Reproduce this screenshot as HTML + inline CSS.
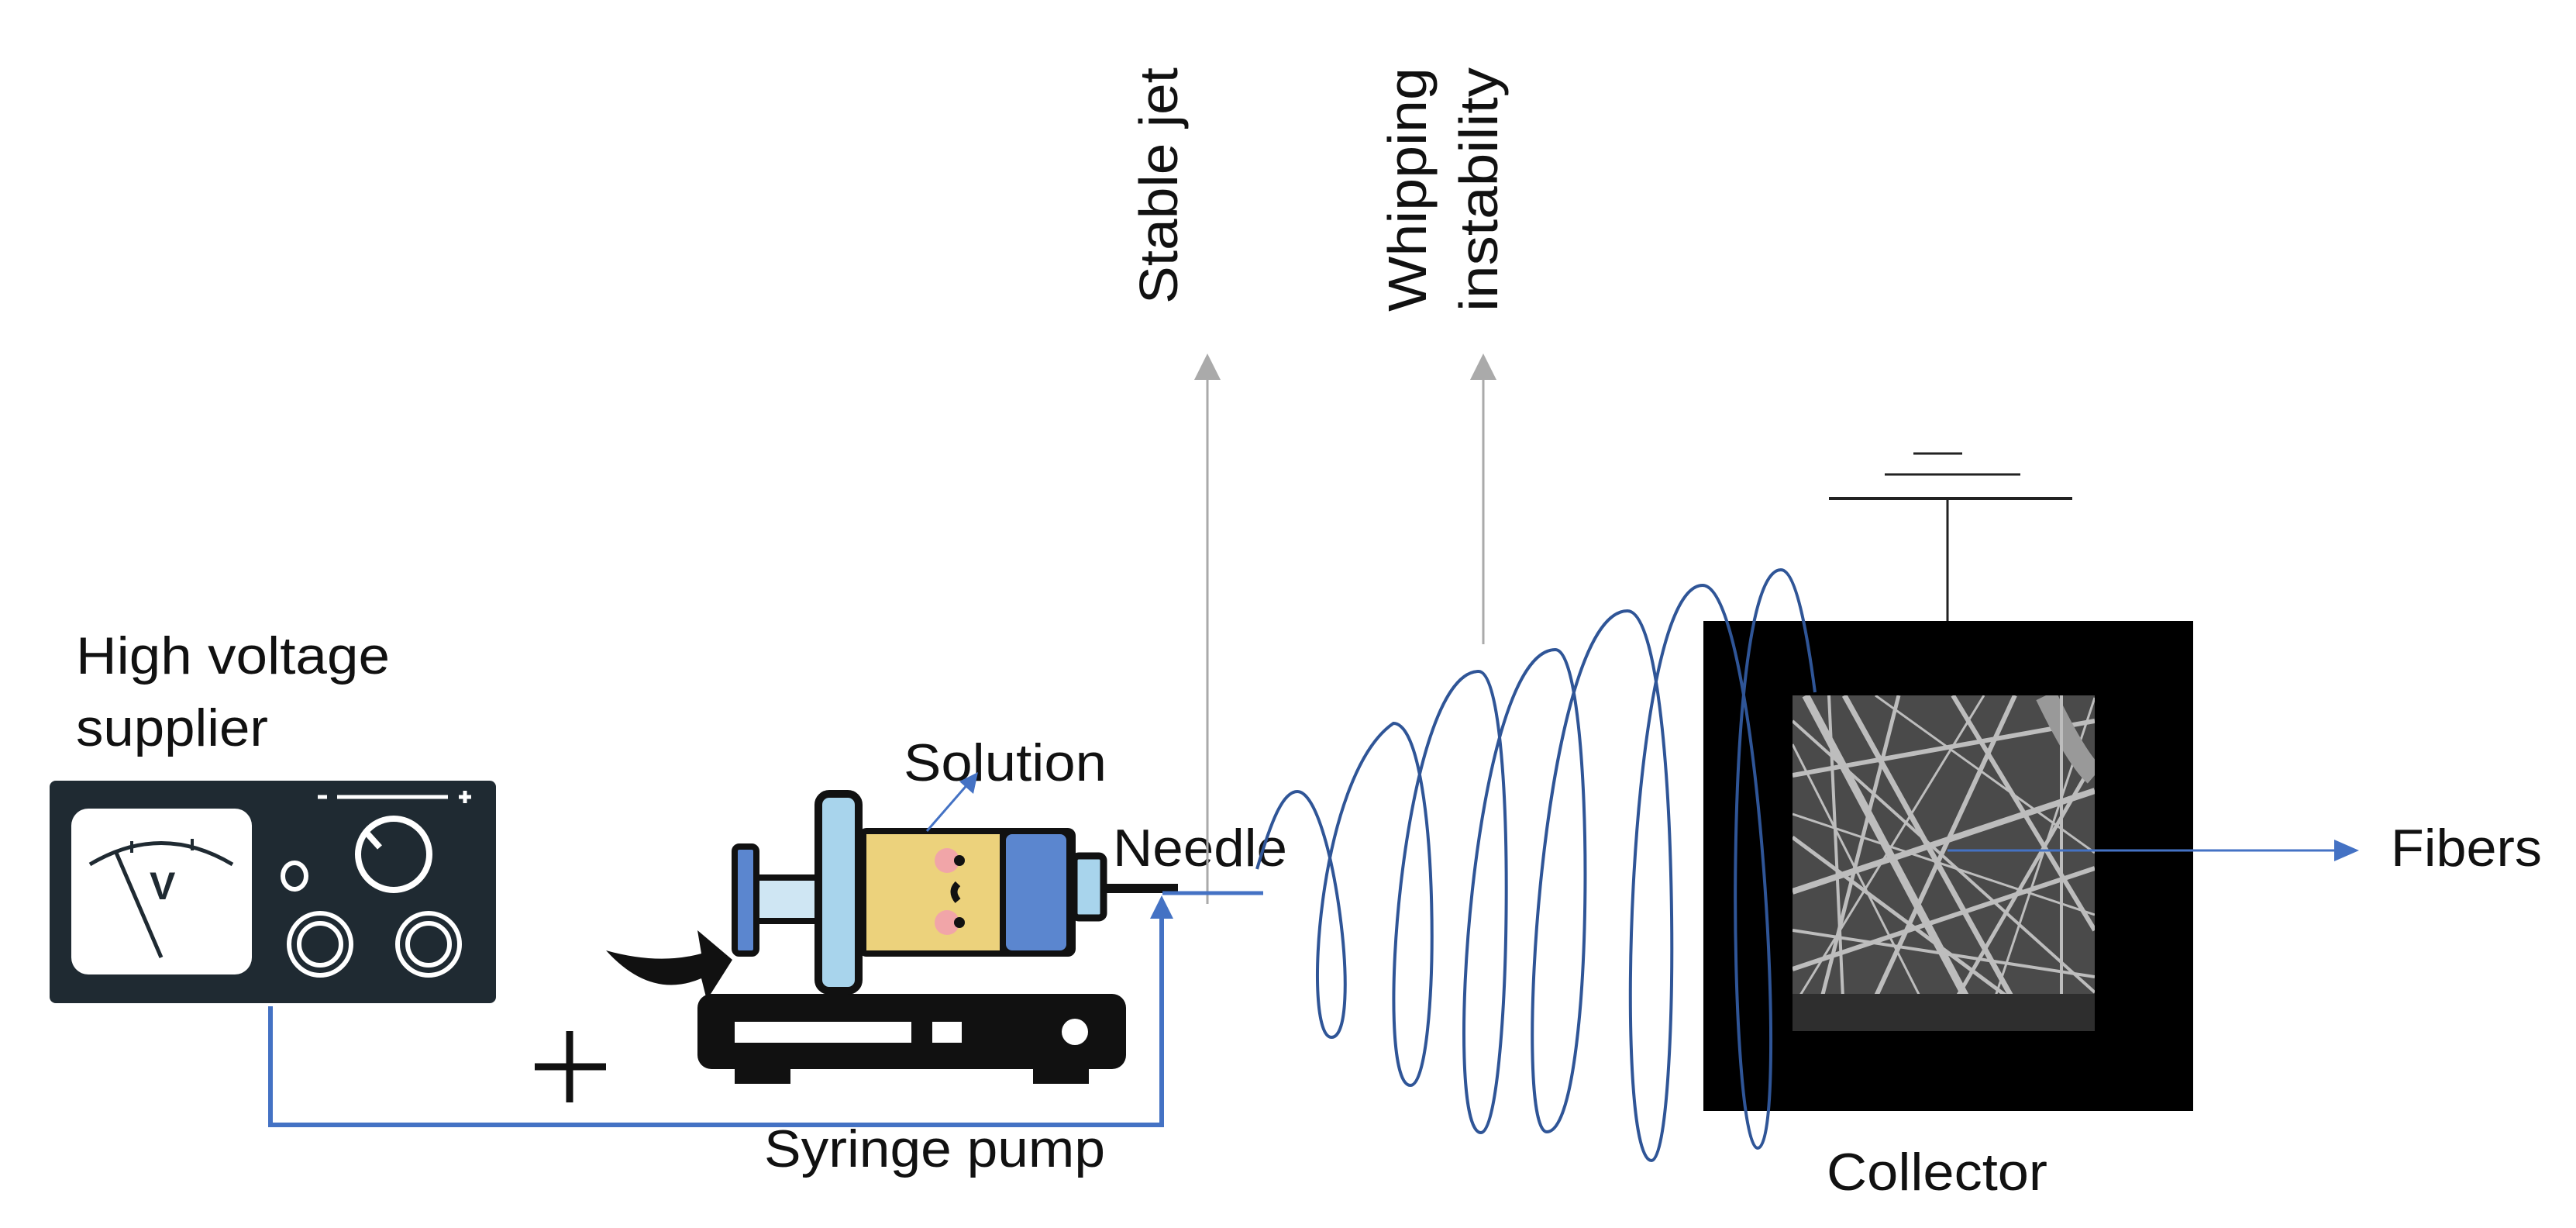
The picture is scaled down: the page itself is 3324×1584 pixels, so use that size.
<!DOCTYPE html>
<html><head><meta charset="utf-8"><style>
html,body{margin:0;padding:0;background:#fff;}
svg{display:block;}
text{font-family:"Liberation Sans",sans-serif;fill:#111;}
</style></head><body>
<svg width="3324" height="1584" viewBox="0 0 3324 1584" xmlns="http://www.w3.org/2000/svg">
<defs>
<clipPath id="sem"><rect x="2313" y="897" width="390" height="433"/></clipPath>
</defs>

<!-- Labels -->
<text x="98" y="869" font-size="68" textLength="405" lengthAdjust="spacingAndGlyphs">High voltage</text>
<text x="98" y="962" font-size="68" textLength="248" lengthAdjust="spacingAndGlyphs">supplier</text>
<text x="1166" y="1007" font-size="68" textLength="262" lengthAdjust="spacingAndGlyphs">Solution</text>
<text x="1436" y="1117" font-size="68" textLength="225" lengthAdjust="spacingAndGlyphs">Needle</text>
<text x="986" y="1505" font-size="68" textLength="440" lengthAdjust="spacingAndGlyphs">Syringe pump</text>
<text x="2357" y="1535" font-size="68" textLength="285" lengthAdjust="spacingAndGlyphs">Collector</text>
<text x="3085" y="1117" font-size="68" textLength="195" lengthAdjust="spacingAndGlyphs">Fibers</text>
<text transform="translate(1519,392) rotate(-90)" font-size="70" textLength="305" lengthAdjust="spacingAndGlyphs">Stable jet</text>
<text transform="translate(1840,402) rotate(-90)" font-size="70" textLength="315" lengthAdjust="spacingAndGlyphs">Whipping</text>
<text transform="translate(1932,402) rotate(-90)" font-size="70" textLength="315" lengthAdjust="spacingAndGlyphs">instability</text>

<!-- grey arrows -->
<line x1="1558" y1="1166" x2="1558" y2="470" stroke="#aaa" stroke-width="3"/>
<path d="M1541,490 L1558,456 L1575,490 z" fill="#aaa"/>
<line x1="1914" y1="831" x2="1914" y2="470" stroke="#aaa" stroke-width="3"/>
<path d="M1897,490 L1914,456 L1931,490 z" fill="#aaa"/>

<!-- Power supply -->
<rect x="64" y="1007" width="576" height="287" rx="8" fill="#1f2a32"/>
<rect x="92" y="1043" width="233" height="214" rx="22" fill="#fff"/>
<path d="M116,1115 Q208,1060 300,1115" fill="none" stroke="#1f2a32" stroke-width="5"/>
<line x1="170" y1="1085" x2="170" y2="1100" stroke="#1f2a32" stroke-width="4"/>
<line x1="248" y1="1082" x2="248" y2="1097" stroke="#1f2a32" stroke-width="4"/>
<line x1="150" y1="1100" x2="208" y2="1235" stroke="#1f2a32" stroke-width="5"/>
<text x="193" y="1160" font-size="50" font-weight="bold" style="fill:#1f2a32">V</text>
<line x1="410" y1="1028" x2="422" y2="1028" stroke="#fff" stroke-width="5"/>
<line x1="435" y1="1028" x2="578" y2="1028" stroke="#fff" stroke-width="5"/>
<line x1="600" y1="1020" x2="600" y2="1036" stroke="#fff" stroke-width="5"/><line x1="592" y1="1028" x2="608" y2="1028" stroke="#fff" stroke-width="5"/>
<ellipse cx="380" cy="1130" rx="15" ry="17" fill="none" stroke="#fff" stroke-width="6"/>
<circle cx="508" cy="1102" r="46" fill="none" stroke="#fff" stroke-width="8"/>
<line x1="472" y1="1073" x2="490" y2="1093" stroke="#fff" stroke-width="8"/>
<circle cx="413" cy="1218" r="40" fill="none" stroke="#fff" stroke-width="6"/>
<circle cx="413" cy="1218" r="27" fill="none" stroke="#fff" stroke-width="6"/>
<circle cx="553" cy="1218" r="40" fill="none" stroke="#fff" stroke-width="6"/>
<circle cx="553" cy="1218" r="27" fill="none" stroke="#fff" stroke-width="6"/>

<!-- plus -->
<line x1="735" y1="1330" x2="735" y2="1422" stroke="#111" stroke-width="9"/>
<line x1="690" y1="1376" x2="782" y2="1376" stroke="#111" stroke-width="9"/>

<!-- pump base -->
<rect x="900" y="1282" width="553" height="97" rx="18" fill="#111"/>
<rect x="948" y="1370" width="72" height="28" fill="#111"/>
<rect x="1333" y="1370" width="72" height="28" fill="#111"/>
<rect x="948" y="1318" width="228" height="27" fill="#fff"/>
<rect x="1203" y="1318" width="38" height="27" fill="#fff"/>
<circle cx="1387" cy="1331" r="17" fill="#fff"/>
<path d="M782,1226 Q840,1290 905,1262 L912,1290 L945,1238 L900,1200 L905,1230 Q850,1245 782,1226 z" fill="#111"/>

<!-- syringe -->
<rect x="1410" y="1140" width="110" height="12" fill="#111"/>
<rect x="1386" y="1104" width="38" height="80" rx="6" fill="#a8d4ec" stroke="#111" stroke-width="9"/>
<rect x="1108" y="1068" width="280" height="166" rx="10" fill="#111"/>
<rect x="1118" y="1076" width="172" height="150" fill="#ecd27c"/>
<rect x="1298" y="1076" width="78" height="150" rx="8" fill="#5b86cf"/>
<circle cx="1222" cy="1110" r="16" fill="#f1a5a8"/>
<circle cx="1222" cy="1190" r="16" fill="#f1a5a8"/>
<circle cx="1238" cy="1110" r="7" fill="#111"/>
<circle cx="1238" cy="1190" r="7" fill="#111"/>
<path d="M1236,1140 q-10,10 0,22" stroke="#111" stroke-width="9" fill="none"/>
<rect x="975" y="1132" width="90" height="56" fill="#cfe6f3" stroke="#111" stroke-width="8"/>
<rect x="948" y="1092" width="28" height="138" rx="6" fill="#5b86cf" stroke="#111" stroke-width="8"/>
<rect x="1056" y="1024" width="52" height="254" rx="14" fill="#a8d4ec" stroke="#111" stroke-width="10"/>
<line x1="1196" y1="1072" x2="1250" y2="1010" stroke="#4472c4" stroke-width="3"/>
<path d="M1262,996 L1256,1024 L1238,1008 z" fill="#4472c4"/>

<!-- wire -->
<polyline points="349,1298 349,1451 1499,1451 1499,1180" fill="none" stroke="#4472c4" stroke-width="6"/>
<path d="M1484,1185 L1499,1155 L1514,1185 z" fill="#4472c4"/>
<line x1="1500" y1="1152" x2="1630" y2="1152" stroke="#4472c4" stroke-width="5"/>

<!-- ground -->
<line x1="2469" y1="585" x2="2532" y2="585" stroke="#222" stroke-width="3"/>
<line x1="2432" y1="612" x2="2607" y2="612" stroke="#222" stroke-width="3"/>
<line x1="2360" y1="643" x2="2674" y2="643" stroke="#222" stroke-width="4"/>
<line x1="2513" y1="643" x2="2513" y2="801" stroke="#222" stroke-width="3"/>

<!-- collector -->
<rect x="2198" y="801" width="632" height="632" fill="#000"/>
<rect x="2313" y="897" width="390" height="433" fill="#4a4a4a"/>
<g clip-path="url(#sem)" stroke="#bdbdbd" fill="none">
<line x1="2330" y1="897" x2="2560" y2="1330" stroke-width="10"/>
<line x1="2380" y1="897" x2="2620" y2="1330" stroke-width="7"/>
<line x1="2313" y1="1000" x2="2703" y2="930" stroke-width="6"/>
<line x1="2313" y1="1150" x2="2703" y2="1020" stroke-width="8"/>
<line x1="2313" y1="1250" x2="2703" y2="1120" stroke-width="6"/>
<line x1="2450" y1="897" x2="2340" y2="1330" stroke-width="5"/>
<line x1="2600" y1="897" x2="2400" y2="1330" stroke-width="6"/>
<line x1="2703" y1="980" x2="2500" y2="1330" stroke-width="5"/>
<line x1="2313" y1="930" x2="2703" y2="1280" stroke-width="4"/>
<line x1="2313" y1="1080" x2="2650" y2="1330" stroke-width="5"/>
<line x1="2520" y1="897" x2="2703" y2="1200" stroke-width="6"/>
<line x1="2313" y1="1200" x2="2703" y2="1260" stroke-width="4"/>
<line x1="2313" y1="960" x2="2500" y2="1330" stroke-width="3"/>
<line x1="2420" y1="897" x2="2703" y2="1100" stroke-width="3"/>
<line x1="2313" y1="1300" x2="2560" y2="897" stroke-width="3"/>
<line x1="2560" y1="1330" x2="2703" y2="900" stroke-width="3"/>
<line x1="2313" y1="1050" x2="2703" y2="1180" stroke-width="3"/>
<path d="M2640,897 Q2680,980 2703,1000" stroke="#999" stroke-width="28"/>
<line x1="2360" y1="897" x2="2380" y2="1330" stroke-width="4"/>
<line x1="2660" y1="897" x2="2660" y2="1330" stroke-width="4"/>
<rect x="2313" y="1282" width="390" height="48" fill="#2e2e2e" stroke="none"/>
</g>
<line x1="2513" y1="1097" x2="3020" y2="1097" stroke="#4472c4" stroke-width="3"/>
<path d="M3012,1083 L3044,1097 L3012,1111 z" fill="#4472c4"/>

<!-- whipping jet -->
<path fill="none" stroke="#2f5597" stroke-width="4" d="
M1622,1121 C1640,1060 1655,1021 1674,1021
C1720,1021 1760,1338 1718,1338
C1680,1338 1700,1000 1798,933
C1860,933 1860,1400 1820,1400
C1770,1400 1810,866 1908,866
C1960,866 1950,1461 1911,1461
C1860,1461 1900,838 2007,838
C2060,838 2060,1460 1996,1460
C1950,1460 1990,788 2100,788
C2170,788 2170,1497 2131,1497
C2080,1497 2100,755 2197,755
C2270,755 2310,1481 2268,1481
C2230,1481 2220,735 2298,735
C2320,735 2335,840 2342,893"/>
</svg>
</body></html>
